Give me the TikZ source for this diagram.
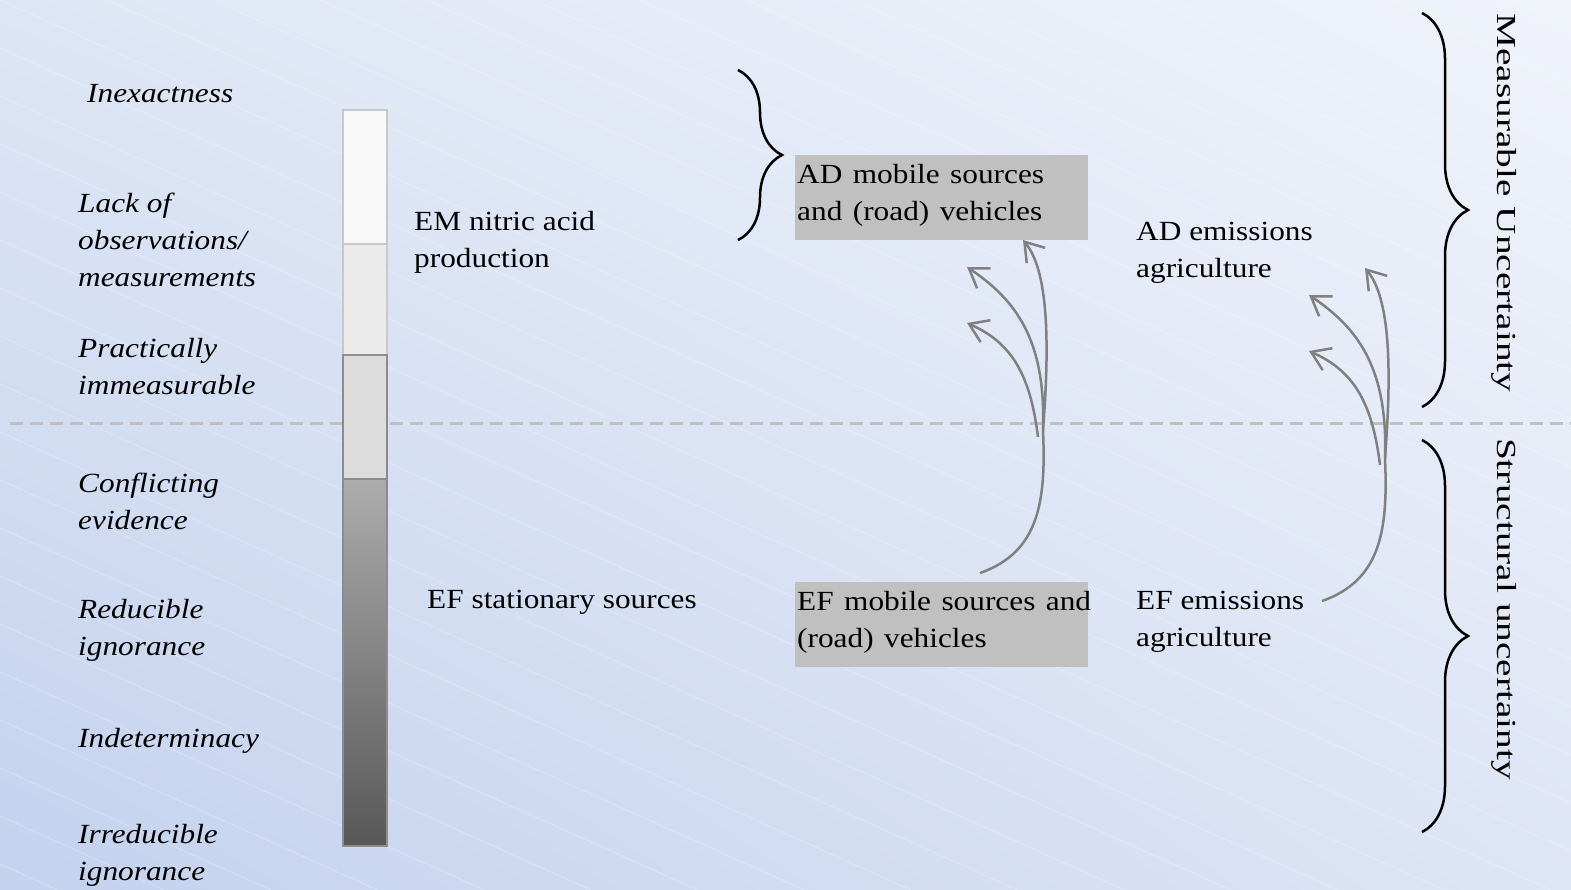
\documentclass[tikz,border=0pt]{standalone}
\usepackage{fontspec}
\setmainfont{Liberation Serif}
\usetikzlibrary{arrows.meta,decorations.pathreplacing,shadings}
\setlength\parindent{0pt}
\definecolor{arrowgray}{RGB}{128,128,128}
\definecolor{boxgray}{RGB}{192,192,192}
\definecolor{dashgray}{RGB}{192,192,192}
\definecolor{bgUL}{RGB}{222,230,245}
\definecolor{bgUR}{RGB}{240,243,250}
\definecolor{bgLL}{RGB}{196,210,238}
\definecolor{bgLR}{RGB}{222,229,245}
\definecolor{segA}{RGB}{248,248,248}
\definecolor{segB}{RGB}{235,235,235}
\definecolor{segC}{RGB}{220,220,220}
\definecolor{segTop}{RGB}{172,172,172}
\definecolor{segBot}{RGB}{88,88,88}
\definecolor{lightborder}{RGB}{200,200,200}
\definecolor{darkborder}{RGB}{140,140,140}
\newcommand\fl{\rule{0pt}{22pt}}
\newcommand\bfl{\rule{0pt}{28pt}}
\newcommand\bll{\rule[-20pt]{0pt}{20pt}}
\begin{document}
\begin{tikzpicture}[x=1pt,y=-1pt,
  lbl/.style={anchor=north west, inner sep=0pt, align=left, xscale=1.13,
    font=\fontsize{27.7}{37}\selectfont},
  ilbl/.style={lbl, font=\fontsize{27.7}{37}\selectfont\itshape},
  graybox/.style={anchor=north west, fill=boxgray, inner ysep=0pt, inner xsep=1.77pt,
    xscale=1.13, text width=255.75pt, align=left, font=\fontsize{27.7}{37}\selectfont},
  rotlbl/.style={anchor=base, inner sep=0pt, rotate=-90, xscale=1.43,
    font=\fontsize{27.5}{33}\selectfont},
  brc/.style={decorate, decoration={brace, amplitude=#1}, line width=2.5pt, draw=black},
  dashline/.style={draw=dashgray, line width=3pt, dash pattern=on 13pt off 7pt},
  trunk/.style={draw=arrowgray, line width=2.5pt},
  arr/.style={draw=arrowgray, line width=2.5pt, -{Straight Barb[length=18pt,width=24pt]}},
  texture/.style={draw=white, line width=0.8pt, opacity=0.25}
]
\useasboundingbox (0,0) rectangle (1571,889);
% background
\shade[upper left=bgUL, upper right=bgUR, lower left=bgLL, lower right=bgLR]
  (0,0) rectangle (1571,889);
\begin{scope}
  \clip (0,0) rectangle (1571,889);
  \foreach \b in {-720,-672,...,888} {
    \draw[texture] (0,\b) -- (1571,\b+707);
  }
\end{scope}

% dashed divider
\draw[dashline] (10,423) -- (1571,423);

% scale bar
\draw[draw=lightborder, fill=segA, line width=1.5pt] (343,110) rectangle (387,244);
\draw[draw=lightborder, fill=segB, line width=1.5pt] (343,244) rectangle (387,355);
\draw[draw=darkborder, fill=segC, line width=1.5pt] (343,355) rectangle (387,479);
\shade[top color=segTop, bottom color=segBot] (343,479) rectangle (387,846);
\draw[draw=darkborder, line width=1.5pt] (343,479) rectangle (387,846);

% left labels
\node[ilbl] (inex) at (87,80) {\fl Inexactness};
\node[ilbl] (lack) at (78,190) {\fl Lack of\\observations/\\measurements};
\node[ilbl] (pract) at (78,335) {\fl Practically\\immeasurable};
\node[ilbl] (confl) at (78,470) {\fl Conflicting\\evidence};
\node[ilbl] (reduc) at (78,596) {\fl Reducible\\ignorance};
\node[ilbl] (indet) at (78,725) {\fl Indeterminacy};
\node[ilbl] (irred) at (78,821) {\fl Irreducible\\ignorance};

% items
\node[lbl] (emnit) at (414,208) {\fl EM nitric acid\\production};
\node[lbl] (efstat) at (427,586) {\fl EF stationary sources};
\node[graybox] (adbox) at (795,155) {\bfl\mbox{AD mobile sources}\\\mbox{and (road) vehicles}\bll};
\node[graybox] (efbox) at (795,582) {\bfl\mbox{EF mobile sources and}\\\mbox{(road) vehicles}\bll};
\node[lbl] (adagr) at (1136,218) {\fl AD emissions\\agriculture};
\node[lbl] (efagr) at (1136,587) {\fl EF emissions\\agriculture};

% braces
\draw[brc=44pt] (738,70) -- (738,240);
\draw[brc=46pt] (1422,13) -- (1422,407);
\draw[brc=46pt] (1422,440) -- (1422,832);

% vertical labels
\node[rotlbl] (measu) at (1497,203) {Measurable Uncertainty};
\node[rotlbl] (struc) at (1497,609) {Structural uncertainty};

% arrow groups
\coordinate (L0) at (980,573);
\coordinate (LJ) at (1043,430);
\coordinate (LC) at (1038,437);
\coordinate (LtA) at (1023,240);
\coordinate (LtB) at (967,267);
\coordinate (LtC) at (967,323);
\draw[trunk] (L0) .. controls (1040,552) and (1046,500) .. (LJ);
\draw[arr] (LJ) .. controls (1050,340) and (1048,270) .. (LtA);
\draw[arr] (LJ) .. controls (1046,340) and (1016,300) .. (LtB);
\draw[arr] (LC) .. controls (1030,372) and (1010,342) .. (LtC);

\coordinate (R0) at (1322,601);
\coordinate (RJ) at (1385,458);
\coordinate (RC) at (1380,465);
\coordinate (RtA) at (1365,268);
\coordinate (RtB) at (1309,295);
\coordinate (RtC) at (1309,351);
\draw[trunk] (R0) .. controls (1382,580) and (1388,528) .. (RJ);
\draw[arr] (RJ) .. controls (1392,368) and (1390,298) .. (RtA);
\draw[arr] (RJ) .. controls (1388,368) and (1358,328) .. (RtB);
\draw[arr] (RC) .. controls (1372,400) and (1352,370) .. (RtC);
\end{tikzpicture}
\end{document}
